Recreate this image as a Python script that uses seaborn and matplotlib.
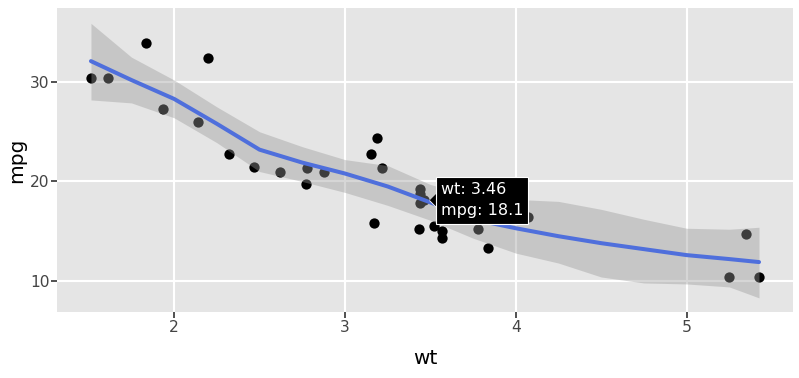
import matplotlib

matplotlib.use("Agg")
import matplotlib.pyplot as plt
import matplotlib.transforms as mtransforms
import pandas as pd
import seaborn as sns

# mtcars: weight (1000 lbs) and miles per gallon
wt = [2.620, 2.875, 2.320, 3.215, 3.440, 3.460, 3.570, 3.190, 3.150, 3.440, 3.440,
      4.070, 3.730, 3.780, 5.250, 5.424, 5.345, 2.200, 1.615, 1.835, 2.465, 3.520,
      3.435, 3.840, 3.845, 1.935, 2.140, 1.513, 3.170, 2.770, 3.570, 2.780]
mpg = [21.0, 21.0, 22.8, 21.4, 18.7, 18.1, 14.3, 24.4, 22.8, 19.2, 17.8,
       16.4, 17.3, 15.2, 10.4, 10.4, 14.7, 32.4, 30.4, 33.9, 21.5, 15.5,
       15.2, 13.3, 19.2, 27.3, 26.0, 30.4, 15.8, 19.7, 15.0, 21.4]

# loess fit and confidence band
fit_wt = [1.513, 1.75, 2.0, 2.25, 2.5, 2.75, 3.0, 3.25, 3.5, 3.75, 4.0,
          4.25, 4.5, 4.75, 5.0, 5.25, 5.424]
fit_mpg = [32.1, 30.2, 28.3, 25.8, 23.2, 21.9, 20.8, 19.5, 17.9, 16.2, 15.3,
           14.5, 13.8, 13.2, 12.6, 12.2, 11.9]
fit_hi = [35.9, 32.5, 30.2, 27.5, 25.0, 23.5, 22.2, 21.6, 19.7, 18.5, 18.2,
          18.0, 17.2, 16.2, 15.3, 15.2, 15.4]
fit_lo = [28.2, 27.9, 26.4, 23.9, 21.0, 20.0, 18.9, 17.6, 16.1, 14.3, 12.8,
          11.8, 10.4, 9.8, 9.7, 9.4, 8.3]

hover_idx = 5  # Valiant
x_ticks = [2, 3, 4, 5]
y_ticks = [10, 20, 30]

sns.set_theme(style="darkgrid", rc={
    "axes.facecolor": "#E5E5E5",
    "grid.color": "white",
    "grid.linewidth": 1.5,
    "xtick.bottom": True,
    "ytick.left": True,
    "xtick.major.size": 4,
    "ytick.major.size": 4,
    "xtick.color": "#333333",
    "ytick.color": "#333333",
    "xtick.labelcolor": "#444444",
    "ytick.labelcolor": "#444444",
})
plt.rcParams["font.family"] = ["DejaVu Sans"]

df = pd.DataFrame({"wt": wt, "mpg": mpg})
fit = pd.DataFrame({"wt": fit_wt, "mpg": fit_mpg, "lo": fit_lo, "hi": fit_hi})

fig = plt.figure(figsize=(7.99, 3.78), dpi=100)
ax = fig.add_axes([0.0713, 0.1746, 0.9212, 0.8042])

sns.scatterplot(data=df, x="wt", y="mpg", ax=ax, color="black", s=55,
                linewidth=0, zorder=2)
ax.fill_between(fit["wt"], fit["lo"], fit["hi"], color="#999999", alpha=0.4,
                linewidth=0, zorder=3)
sns.lineplot(data=fit, x="wt", y="mpg", ax=ax, color="#4F6FDC", linewidth=2.9,
             zorder=4)

# hover label: pointer triangle + black box
hx, hy = wt[hover_idx], mpg[hover_idx]
tri = mtransforms.offset_copy(ax.transData, fig=fig, x=3.6, y=0, units="points")
ax.plot([hx], [hy], marker=[(0, 0), (1, -1), (1, 1)], color="black",
        markersize=11, markeredgecolor="white", markeredgewidth=0.6,
        transform=tri, zorder=5)
ax.annotate(f"wt: {hx:.2f}\nmpg: {hy}", xy=(hx, hy), xytext=(12.4, 0),
            textcoords="offset points", ha="left", va="center", color="white",
            fontsize=11.5, linespacing=1.5, zorder=6,
            bbox=dict(boxstyle="square,pad=0.32", fc="black", ec="white", lw=0.8))

ax.set_xlim(1.314, 5.623)
ax.set_ylim(6.88, 37.44)
ax.set_xticks(x_ticks)
ax.set_yticks(y_ticks)
ax.grid(which="major", color="white", linewidth=1.5)
ax.tick_params(labelsize=11.2, pad=1.5, width=1.2)
ax.set_xlabel("wt", fontsize=14.5, color="black", labelpad=10)
ax.set_ylabel("mpg", fontsize=14.5, color="black", labelpad=3)
for s in ax.spines.values():
    s.set_visible(False)

fig.savefig("out.png", dpi=100)
